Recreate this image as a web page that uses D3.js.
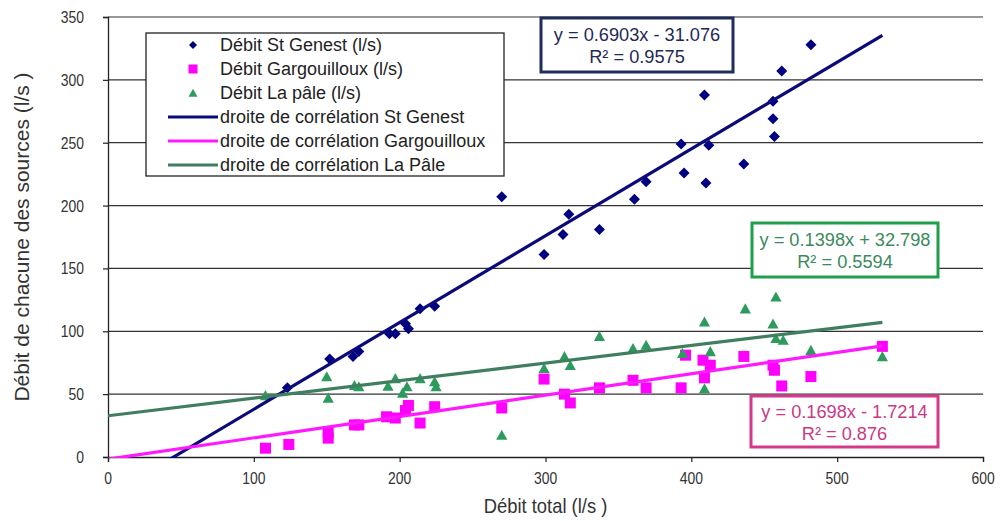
<!DOCTYPE html>
<html><head><meta charset="utf-8">
<script src="https://cdn.jsdelivr.net/npm/d3@7"></script>
<style>body{margin:0;background:#fff;} svg{display:block;} text{font-family:"Liberation Sans",Arial,sans-serif;}</style>
</head><body><svg id="c" width="1002" height="521"></svg>
<script>
// ---- data ----
const stGenestX = [123,152,168,172,193,197,204,206,214,224,270,299,312,316,337,361,369,393,395,409,412,410,436,456,456,457,462,482,531];
const stGenestY = [55,78,80,84,98,98,106,102,118,120,207,161,177,193,181,205,219,249,226,288,248,218,233,283,269,255,307,328,363];
const gargX = [108,124,151,151,169,172,191,197,204,206,214,224,270,299,313,317,337,360,369,393,396,408,413,409,436,456,457,462,482,531];
const gargY = [7,10,20,15,25.5,25.5,32,31,37,41,27,40,39,62,50,43,55,61,55,55,81,77,73,63,80,73,69,56.5,64,88];
const paleX = [108,150,151,169,172,192,197,202,205,214,224,225,270,299,313,317,337,360,369,394,409,413,409,437,458,456,458,463,482,531];
const paleY = [49,64,47,57,56,56.5,62.5,51,56,62.5,60,56,17.5,70.6,80,73,96,86.5,89,82.5,107.5,84,54.5,118,127.5,106,94.5,93,85,80];
const seriesNames = ["Débit St Genest (l/s)","Débit Gargouilloux (l/s)","Débit La pâle (l/s)"];
const trendNames = ["droite de corrélation St Genest","droite de corrélation Gargouilloux","droite de corrélation La Pâle"];
const trendSlope = [0.6903, 0.1698, 0.1398];
const trendIntercept = [-31.076, -1.7214, 32.798];
const trendR2 = ["0.9575", "0.876", "0.5594"];
const xTicks = [0,100,200,300,400,500,600];
const yTicks = [0,50,100,150,200,250,300,350];
const xTitle = "Débit total (l/s )";
const yTitle = "Débit de chacune des sources (l/s )";

// ---- layout ----
const svg = d3.select("#c");
const L=108,R=983,T=17,B=457;
const x = d3.scaleLinear().domain([0,600]).range([L,R]);
const y = d3.scaleLinear().domain([0,350]).range([B,T]);
const markerCol = ["#000080","#ff00ff","#2e9b5e"];
const lineCol = ["#0a0a78","#ff19ff","#3f7f5f"];

function txt(g, px, py, s, o){
  const gg = g.append("g").attr("transform",`translate(${px},${py}) scale(${o.sx||1},1)`);
  return gg.append("text").attr("x",0).attr("y",0).attr("text-anchor",o.anchor||"start")
    .attr("font-size",o.size).attr("fill",o.fill||"#222").text(s);
}

svg.append("rect").attr("width",1002).attr("height",521).attr("fill","#fff");
svg.append("defs").append("clipPath").attr("id","clip").append("rect")
  .attr("x",L).attr("y",T-2).attr("width",R-L).attr("height",B-T+3);

// gridlines
svg.append("g").selectAll("line").data(yTicks.filter(d=>d>0)).join("line")
  .attr("x1",L).attr("x2",R).attr("y1",d=>y(d)).attr("y2",d=>y(d))
  .attr("stroke","#333").attr("stroke-width",1.2);

// axes
const ax = svg.append("g").attr("transform",`translate(0,${B})`)
  .call(d3.axisBottom(x).tickValues(xTicks).tickSize(5).tickFormat(""));
const ay = svg.append("g").attr("transform",`translate(${L},0)`)
  .call(d3.axisLeft(y).tickValues(yTicks).tickSize(5).tickFormat(""));
[ax,ay].forEach(a=>{a.select(".domain").attr("stroke","#222").attr("stroke-width",1.3);
  a.selectAll(".tick line").attr("stroke","#222").attr("stroke-width",1.2);});

const lab = svg.append("g");
xTicks.forEach(v=>txt(lab, x(v), B+27, String(v), {size:17, anchor:"middle", sx:0.82, fill:"#333"}));
yTicks.forEach(v=>txt(lab, 84, y(v)+6, String(v), {size:17, anchor:"end", sx:0.82, fill:"#333"}));
txt(lab, (L+R)/2, 513, xTitle, {size:20, anchor:"middle", sx:0.92, fill:"#333"});
lab.append("g").attr("transform",`translate(29,${(T+B)/2}) rotate(-90)`)
  .append("text").attr("text-anchor","middle").attr("font-size",21).attr("fill","#333").text(yTitle);

// markers
const diamond = r=>`M0,${-r}L${r},0L0,${r}L${-r},0Z`;
const square = r=>`M${-r},${-r}H${r}V${r}H${-r}Z`;
const tri = r=>`M0,${-r*0.95}L${r},${r*0.85}L${-r},${r*0.85}Z`;
const shapes = [diamond(5.5), square(5.5), tri(5.6)];
const data = [[stGenestX,stGenestY],[gargX,gargY],[paleX,paleY]];
const plot = svg.append("g").attr("clip-path","url(#clip)");
data.forEach(([xs,ys],i)=>{
  plot.append("g").selectAll("path").data(xs.map((v,j)=>[v,ys[j]])).join("path")
    .attr("d",shapes[i]).attr("fill",markerCol[i])
    .attr("transform",d=>`translate(${x(d[0])},${y(d[1])})`);
});
// trendlines from x=0 to max x
const xMax = d3.max(stGenestX);
trendSlope.forEach((s,i)=>{
  const pts=[0,xMax].map(v=>[x(v), y(s*v+trendIntercept[i])]);
  plot.append("line").attr("x1",pts[0][0]).attr("y1",pts[0][1]).attr("x2",pts[1][0]).attr("y2",pts[1][1])
    .attr("stroke",lineCol[i]).attr("stroke-width",3.2);
});

// legend
const lg = svg.append("g");
lg.append("rect").attr("x",146).attr("y",33).attr("width",358).attr("height",143)
  .attr("fill","#fff").attr("stroke","#222").attr("stroke-width",1.3);
const rowY = [45,69,93,117,141,165];
seriesNames.forEach((n,i)=>{
  lg.append("path").attr("d",[diamond(4),square(4.5),tri(4.5)][i]).attr("fill",markerCol[i])
    .attr("transform",`translate(193,${rowY[i]})`);
  txt(lg,220,rowY[i]+6,n,{size:18,sx:1});
});
trendNames.forEach((n,i)=>{
  lg.append("line").attr("x1",168).attr("x2",218).attr("y1",rowY[i+3]).attr("y2",rowY[i+3])
    .attr("stroke",lineCol[i]).attr("stroke-width",3.2);
  txt(lg,220,rowY[i+3]+6,n,{size:18,sx:1});
});

// equation boxes
const boxes = [
  {x:541,y:18,w:192,h:54,stroke:"#1f2d5c",fill:"#1f2a55"},
  {x:751,y:396,w:187,h:51,stroke:"#d6398a",fill:"#c83a84"},
  {x:752,y:223,w:186,h:54,stroke:"#1f9e4c",fill:"#3a8a5c"}
];
trendSlope.forEach((s,i)=>{
  const b=boxes[i];
  svg.append("rect").attr("x",b.x).attr("y",b.y).attr("width",b.w).attr("height",b.h)
    .attr("fill","#fff").attr("stroke",b.stroke).attr("stroke-width",3);
  const c = trendIntercept[i];
  const eq = `y = ${s}x ${c<0?"-":"+"} ${Math.abs(c)}`;
  const cy = b.y+b.h/2;
  txt(svg,b.x+b.w/2,cy-4,eq,{size:17.5,anchor:"middle",sx:1.04,fill:b.fill});
  txt(svg,b.x+b.w/2,cy+18,`R² = ${trendR2[i]}`,{size:17.5,anchor:"middle",sx:1.04,fill:b.fill});
});
</script></body></html>
